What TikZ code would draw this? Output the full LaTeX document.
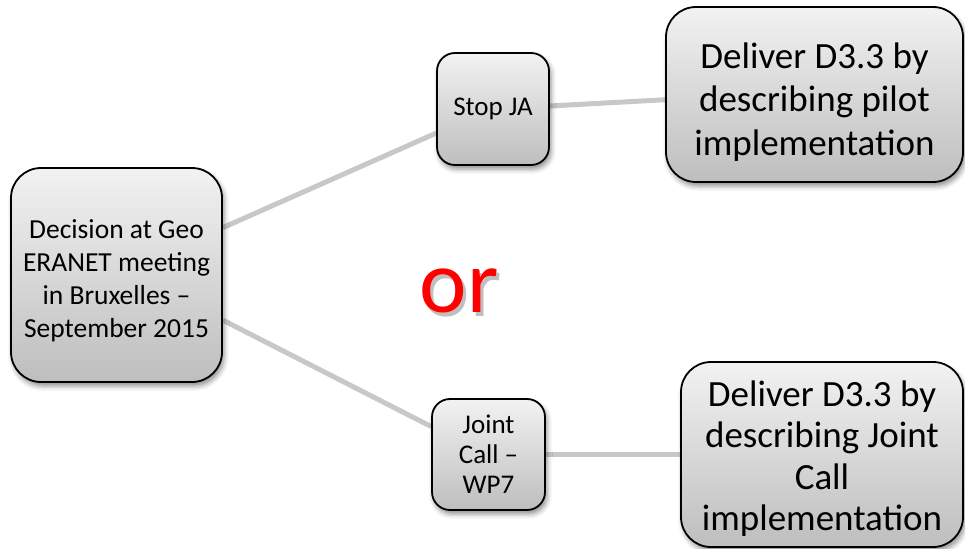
\documentclass[tikz,border=0pt]{standalone}
\usepackage{fontspec}
\setmainfont{Carlito}
\usepackage[outline]{contour}
\contourlength{3pt}
\usetikzlibrary{shadows.blur,backgrounds,calc}
\definecolor{boxtop}{RGB}{242,242,242}
\definecolor{boxbot}{RGB}{190,190,190}
\definecolor{linkgray}{RGB}{200,200,200}
\newcommand{\topstrut}[1]{\rule{0pt}{#1}}
\tikzset{
  box/.style={draw=black, line width=1.8pt, rectangle, align=center,
    top color=boxtop, bottom color=boxbot, inner sep=0pt,
    blur shadow={shadow xshift=2pt, shadow yshift=-4pt, shadow blur radius=5pt, shadow opacity=45}},
  bigbox/.style={box, rounded corners=30pt, font=\fontsize{37}{43.5}\selectfont},
  smallbox/.style={box, rounded corners=18pt, font=\fontsize{27}{30}\selectfont},
  ortext/.style={font=\fontsize{90}{90}\selectfont, inner sep=0pt},
  link/.style={draw=linkgray, line width=5pt}
}
\begin{document}
\begin{tikzpicture}[x=1pt,y=-1pt]
\useasboundingbox (0,0) rectangle (965,548);
\node[box, rounded corners=30pt, font=\fontsize{27.5}{33}\selectfont,
  minimum width=211pt, minimum height=214pt] (L) at (116.5,275)
  {\topstrut{30.5pt}Decision at Geo\\ERANET meeting\\in Bruxelles –\\September 2015};
\node[smallbox, minimum width=112pt, minimum height=112pt] (S) at (493,109) {Stop JA};
\node[smallbox, minimum width=113pt, minimum height=111pt] (J) at (488.5,454.5) {Joint\\Call –\\WP7};
\node[bigbox, minimum width=297pt, minimum height=175pt] (TR) at (814.5,94.5)
  {\topstrut{40pt}Deliver D3.3 by\\describing pilot\\implementation};
\node[bigbox, font=\fontsize{37}{41.5}\selectfont, minimum width=282pt, minimum height=185pt] (BR) at (822,454.5)
  {\topstrut{34pt}Deliver D3.3 by\\describing Joint\\Call\\implementation};
\node[ortext] (OR) at (459,293)
  {\rlap{\kern3pt\raisebox{-4pt}{\textcolor{black!25}{or}}}\contour{white}{\textcolor{red}{or}}};
\begin{scope}[on background layer]
\draw[link] (L.24) -- (S.203);
\draw[link] (L.337) -- (J.154);
\draw[link] (S.3) -- (TR.182);
\draw[link] (J.east) -- (BR.west);
\end{scope}
\end{tikzpicture}
\end{document}
